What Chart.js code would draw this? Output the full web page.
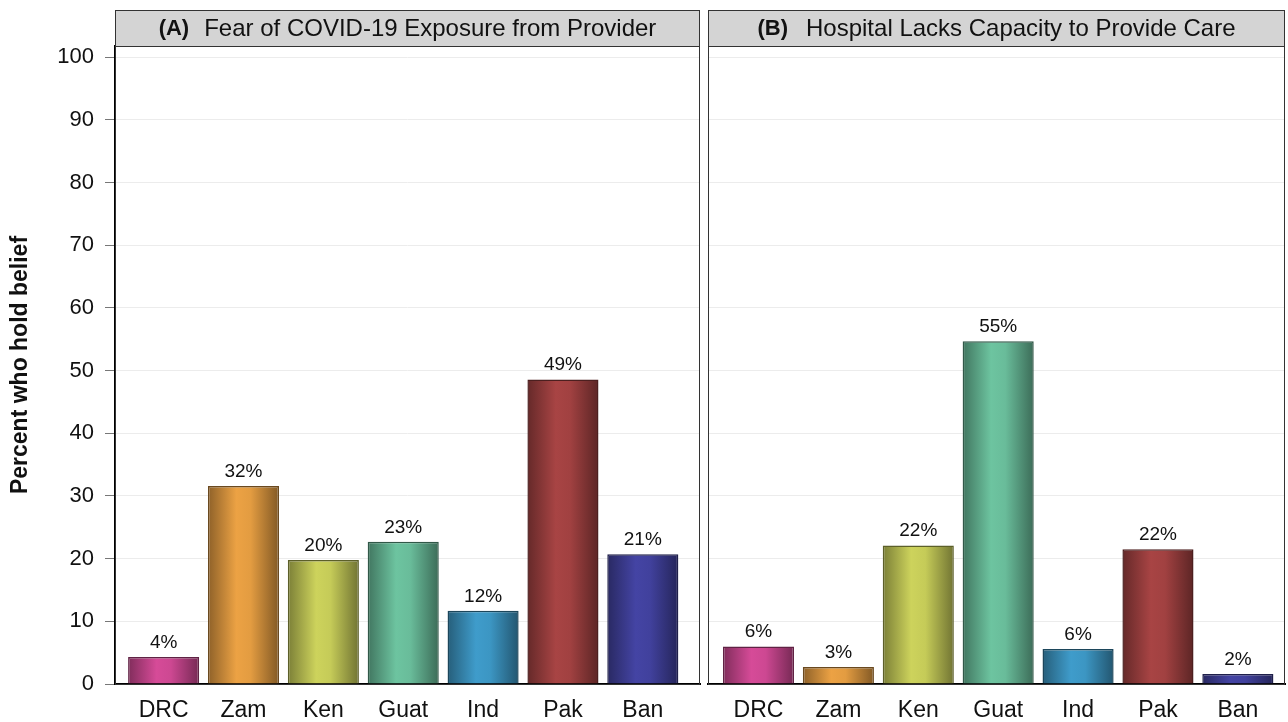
<!DOCTYPE html>
<html>
<head>
<meta charset="utf-8">
<script src="https://cdn.jsdelivr.net/npm/chart.js@4.4.1/dist/chart.umd.min.js"></script>
<style>
  html, body { margin: 0; padding: 0; background: #fff; }
  #wrap { position: relative; width: 1288px; height: 722px; }
  #panelA { position: absolute; left: 0; top: 0; }
  #panelB { position: absolute; left: 704px; top: 0; }
</style>
</head>
<body>
<div id="wrap">
  <canvas id="panelA" width="704" height="722"></canvas>
  <canvas id="panelB" width="584" height="722"></canvas>
</div>
<script>
// countries on the x axis
const countries = ['DRC', 'Zam', 'Ken', 'Guat', 'Ind', 'Pak', 'Ban'];
const barColors = ['#d64b98', '#eca244', '#cdd35c', '#6dc4a0', '#3f9ccb', '#a84444', '#4444a4'];

// (A) fear of COVID-19 exposure from provider
const fearValues = [4.3, 31.6, 19.8, 22.7, 11.7, 48.6, 20.7];
const fearLabels = ['4%', '32%', '20%', '23%', '12%', '49%', '21%'];

// (B) hospital lacks capacity to provide care
const capacityValues = [6.0, 2.7, 22.1, 54.7, 5.6, 21.5, 1.6];
const capacityLabels = ['6%', '3%', '22%', '55%', '6%', '22%', '2%'];

const yTicks = [0, 10, 20, 30, 40, 50, 60, 70, 80, 90, 100];

const FONT = '"Liberation Sans", Arial, sans-serif';
const BAR_PCT = 0.89;

function shade(hex, f) {
    const n = parseInt(hex.slice(1), 16);
    const r = Math.round(((n >> 16) & 255) * f);
    const g = Math.round(((n >> 8) & 255) * f);
    const b = Math.round((n & 255) * f);
    return `rgb(${Math.min(r, 255)},${Math.min(g, 255)},${Math.min(b, 255)})`;
}

// horizontal shading like the original "3d" bars
function barGradient(c) {
    const chart = c.chart;
    const base = barColors[c.dataIndex];
    if (!chart.chartArea || !chart.scales.x) return base;
    const xs = chart.scales.x;
    const cx = xs.getPixelForValue(c.dataIndex);
    const half = (xs.getPixelForValue(1) - xs.getPixelForValue(0)) * BAR_PCT / 2;
    const g = chart.ctx.createLinearGradient(cx - half, 0, cx + half, 0);
    g.addColorStop(0, shade(base, 0.6));
    g.addColorStop(0.4, base);
    g.addColorStop(0.6, shade(base, 0.96));
    g.addColorStop(1, shade(base, 0.55));
    return g;
}

// grey strip header and panel frame
const stripPlugin = {
    id: 'strip',
    afterDraw(chart, args, opts) {
        const { ctx, chartArea: a } = chart;
        ctx.save();
        ctx.strokeStyle = '#333';
        ctx.lineWidth = 1;
        ctx.strokeRect(a.left + 0.5, a.top + 0.5, a.right - a.left - 1, a.bottom - a.top);
        ctx.fillStyle = '#d4d4d4';
        ctx.fillRect(a.left, 10, a.right - a.left, a.top - 10);
        ctx.strokeRect(a.left + 0.5, 10.5, a.right - a.left - 1, a.top - 10);
        ctx.fillStyle = '#111';
        ctx.textBaseline = 'middle';
        ctx.font = 'bold 22px ' + FONT;
        const w1 = ctx.measureText(opts.tag).width;
        ctx.font = '24px ' + FONT;
        const w2 = ctx.measureText(opts.text).width;
        const total = w1 + opts.gap + w2;
        let x = (a.left + a.right) / 2 - total / 2;
        const y = (10 + a.top) / 2 + 1;
        ctx.font = 'bold 22px ' + FONT;
        ctx.fillText(opts.tag, x, y);
        ctx.font = '24px ' + FONT;
        ctx.fillText(opts.text, x + w1 + opts.gap, y);
        ctx.restore();
    }
};

// percent labels above bars
const valueLabels = {
    id: 'valueLabels',
    afterDatasetsDraw(chart, args, opts) {
        const { ctx } = chart;
        const meta = chart.getDatasetMeta(0);
        ctx.save();
        ctx.font = '19px ' + FONT;
        ctx.fillStyle = '#111';
        ctx.textAlign = 'center';
        ctx.textBaseline = 'alphabetic';
        meta.data.forEach((bar, i) => {
            ctx.fillText(opts.labels[i], bar.x, bar.y - 9);
        });
        ctx.restore();
    }
};

function makePanel(id, values, labels, tag, text, gap, xMin, xMax, withAxis) {
    const ctx = document.getElementById(id).getContext('2d');
    return new Chart(ctx, {
        type: 'bar',
        data: {
            datasets: [{
                data: values.map((v, i) => ({ x: i, y: v })),
                backgroundColor: barGradient,
                borderColor: barColors.map(c => shade(c, 0.45)),
                borderWidth: 1.5,
                borderSkipped: 'bottom',
                barPercentage: BAR_PCT,
                categoryPercentage: 1
            }]
        },
        plugins: [stripPlugin, valueLabels],
        options: {
            responsive: false,
            animation: false,
            layout: { padding: { top: 46, right: withAxis ? 4 : 3, left: 0, bottom: 0 } },
            plugins: {
                legend: { display: false },
                tooltip: { enabled: false },
                strip: { tag: tag, text: text, gap: gap },
                valueLabels: { labels: labels }
            },
            scales: {
                x: {
                    type: 'linear',
                    offset: false,
                    min: xMin,
                    max: xMax,
                    afterBuildTicks: s => { s.ticks = countries.map((_, i) => ({ value: i })); },
                    afterFit: s => { s.height = 38; },
                    ticks: {
                        callback: v => countries[v],
                        font: { family: FONT, size: 23 },
                        color: '#111',
                        padding: 13
                    },
                    grid: { offset: false, drawOnChartArea: false, drawTicks: false },
                    border: { color: '#000', width: 2 }
                },
                y: {
                    min: 0,
                    max: 101.8,
                    afterBuildTicks: s => { s.ticks = yTicks.map(v => ({ value: v })); },
                    afterFit: s => { s.width = withAxis ? 115 : 4; },
                    ticks: {
                        display: withAxis,
                        font: { family: FONT, size: 22 },
                        color: '#111',
                        padding: 11
                    },
                    grid: {
                        color: '#ececec',
                        tickColor: '#777',
                        tickLength: 10,
                        drawTicks: withAxis
                    },
                    border: { color: withAxis ? '#000' : '#555', width: withAxis ? 1.5 : 1 },
                    title: {
                        display: withAxis,
                        text: 'Percent who hold belief',
                        font: { family: FONT, size: 23, weight: 'bold' },
                        color: '#111',
                        padding: { top: 7, bottom: 0 }
                    }
                }
            }
        }
    });
}

makePanel('panelA', fearValues, fearLabels, '(A)', 'Fear of COVID-19 Exposure from Provider', 15, -0.609, 6.716, true);
makePanel('panelB', capacityValues, capacityLabels, '(B)', 'Hospital Lacks Capacity to Provide Care', 18, -0.632, 6.59, false);
</script>
</body>
</html>
